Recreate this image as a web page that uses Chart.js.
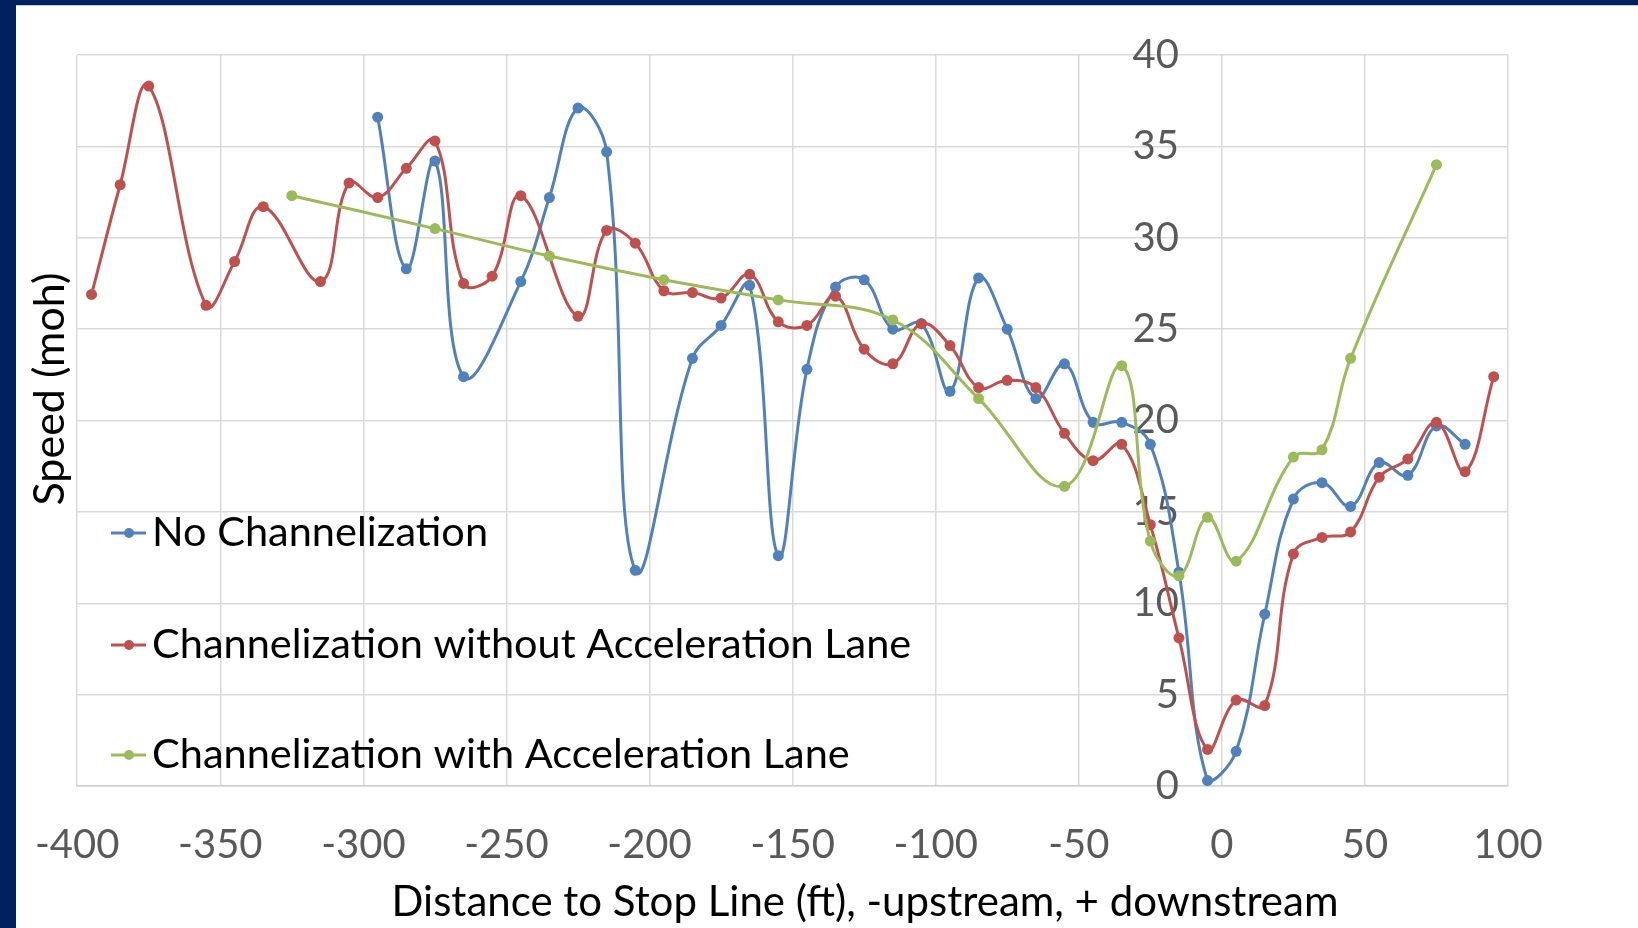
<!DOCTYPE html>
<html>
<head>
<meta charset="utf-8">
<title>Speed vs Distance to Stop Line</title>
<script src="https://cdn.jsdelivr.net/npm/chart.js@4.4.1/dist/chart.umd.min.js"></script>
<style>
  html, body { margin: 0; padding: 0; background: #ffffff; }
  canvas { display: block; }
</style>
</head>
<body>
<canvas id="chart" width="1638" height="928"></canvas>
<script>
// Distance to stop line (ft) and mean speed for each scenario
const noChanDistance = [-295, -285, -275, -265, -245, -235, -225, -215, -205, -185, -175, -165, -155, -145, -135, -125, -115, -105, -95, -85, -75, -65, -55, -45, -35, -25, -15, -5, 5, 15, 25, 35, 45, 55, 65, 75, 85];
const noChanSpeed = [36.6, 28.3, 34.2, 22.4, 27.6, 32.2, 37.1, 34.7, 11.8, 23.4, 25.2, 27.4, 12.6, 22.8, 27.3, 27.7, 25.0, 25.3, 21.6, 27.8, 25.0, 21.2, 23.1, 19.9, 19.9, 18.7, 11.7, 0.3, 1.9, 9.4, 15.7, 16.6, 15.3, 17.7, 17.0, 19.7, 18.7];

const chanNoAccelDistance = [-395, -385, -375, -355, -345, -335, -315, -305, -295, -285, -275, -265, -255, -245, -225, -215, -205, -195, -185, -175, -165, -155, -145, -135, -125, -115, -105, -95, -85, -75, -65, -55, -45, -35, -25, -15, -5, 5, 15, 25, 35, 45, 55, 65, 75, 85, 95];
const chanNoAccelSpeed = [26.9, 32.9, 38.3, 26.3, 28.7, 31.7, 27.6, 33.0, 32.2, 33.8, 35.3, 27.5, 27.9, 32.3, 25.7, 30.4, 29.7, 27.1, 27.0, 26.7, 28.0, 25.4, 25.2, 26.8, 23.9, 23.1, 25.3, 24.1, 21.8, 22.2, 21.8, 19.3, 17.8, 18.7, 14.3, 8.1, 2.0, 4.7, 4.4, 12.7, 13.6, 13.9, 16.9, 17.9, 19.9, 17.2, 22.4];

const chanAccelDistance = [-325, -275, -235, -195, -155, -115, -85, -55, -35, -25, -15, -5, 5, 25, 35, 45, 75];
const chanAccelSpeed = [32.3, 30.5, 29.0, 27.7, 26.6, 25.5, 21.2, 16.4, 23.0, 13.4, 11.5, 14.7, 12.3, 18.0, 18.4, 23.4, 34.0];

const seriesLabels = ['No Channelization', 'Channelization without Acceleration Lane', 'Channelization with Acceleration Lane'];
const xTickValues = [-400, -350, -300, -250, -200, -150, -100, -50, 0, 50, 100];
const yTickValues = [0, 5, 10, 15, 20, 25, 30, 35, 40];
const xTitle = 'Distance to Stop Line (ft), -upstream, + downstream';
const yTitle = 'Speed (moh)';

const colors = ['#4F81BD', '#C0504D', '#9BBB59'];
const FONT = 'Lato, "Open Sans", sans-serif';

function points(xs, ys) {
  return xs.map((x, i) => ({ x: x, y: ys[i] }));
}

function series(idx, xs, ys, order) {
  return {
    label: seriesLabels[idx],
    data: points(xs, ys),
    showLine: true,
    borderColor: colors[idx],
    backgroundColor: colors[idx],
    pointBackgroundColor: colors[idx],
    pointBorderColor: colors[idx],
    borderWidth: 3,
    pointRadius: 5.5,
    pointBorderWidth: 0,
    tension: 0.4,
    order: order
  };
}

// Navy frame along the left and top edges of the slide
const framePlugin = {
  id: 'frame',
  beforeDraw(chart) {
    const ctx = chart.ctx;
    ctx.save();
    ctx.fillStyle = '#ffffff';
    ctx.fillRect(0, 0, chart.width, chart.height);
    ctx.fillStyle = '#00205F';
    ctx.fillRect(0, 0, 16, chart.height);
    ctx.fillRect(0, 0, chart.width, 5);
    ctx.fillStyle = '#c9ced8';
    ctx.fillRect(16, 5, chart.width - 16, 1);
    ctx.restore();
  }
};

// Axis titles
const titlesPlugin = {
  id: 'axisTitles',
  afterDraw(chart) {
    const ctx = chart.ctx;
    ctx.save();
    ctx.fillStyle = '#000000';
    ctx.textAlign = 'center';
    ctx.textBaseline = 'middle';
    ctx.font = '42px ' + FONT;
    ctx.fillText(xTitle, 865, 902);
    ctx.font = '43px ' + FONT;
    ctx.translate(50, 389);
    ctx.rotate(-Math.PI / 2);
    ctx.fillText(yTitle, 0, 0);
    ctx.restore();
  }
};

// Legend drawn inside the plot, lower left
const legendPlugin = {
  id: 'innerLegend',
  afterDatasetsDraw(chart) {
    const ctx = chart.ctx;
    const rows = [533, 645, 755];
    ctx.save();
    ctx.font = '41.5px ' + FONT;
    ctx.textAlign = 'left';
    ctx.textBaseline = 'middle';
    chart.data.datasets.forEach((ds, i) => {
      const y = rows[i];
      ctx.strokeStyle = ds.borderColor;
      ctx.lineWidth = 3;
      ctx.beginPath();
      ctx.moveTo(111, y);
      ctx.lineTo(146, y);
      ctx.stroke();
      ctx.fillStyle = ds.borderColor;
      ctx.beginPath();
      ctx.arc(129, y, 5, 0, Math.PI * 2);
      ctx.fill();
      ctx.fillStyle = '#000000';
      ctx.fillText(ds.label, 152, y);
    });
    ctx.restore();
  }
};

const gridColor = '#D9D9D9';

new Chart(document.getElementById('chart'), {
  type: 'scatter',
  data: {
    datasets: [
      series(0, noChanDistance, noChanSpeed, 2),
      series(1, chanNoAccelDistance, chanNoAccelSpeed, 1),
      series(2, chanAccelDistance, chanAccelSpeed, 0)
    ]
  },
  options: {
    responsive: false,
    animation: false,
    devicePixelRatio: 1,
    layout: { padding: { left: 76, right: 130, top: 55, bottom: 0 } },
    plugins: {
      legend: { display: false },
      tooltip: { enabled: false }
    },
    scales: {
      x: {
        type: 'linear',
        position: 'bottom',
        min: xTickValues[0],
        max: xTickValues[xTickValues.length - 1],
        afterBuildTicks(scale) {
          scale.ticks = xTickValues.map(v => ({ value: v }));
        },
        afterFit(scale) { scale.height = 142; },
        grid: { color: gridColor, lineWidth: 1.5, drawTicks: false },
        border: { color: '#D0D0D0', width: 1.5 },
        ticks: {
          color: '#595959',
          font: { family: FONT, size: 40 },
          padding: 35,
          maxRotation: 0,
          autoSkip: false
        }
      },
      y: {
        type: 'linear',
        position: { x: -15 },
        min: yTickValues[0],
        max: yTickValues[yTickValues.length - 1],
        afterBuildTicks(scale) {
          scale.ticks = yTickValues.map(v => ({ value: v }));
        },
        grid: { color: gridColor, lineWidth: 1.5, drawTicks: false },
        border: { display: false },
        ticks: {
          color: '#595959',
          font: { family: FONT, size: 40 },
          autoSkip: false
        }
      }
    }
  },
  plugins: [framePlugin, titlesPlugin, legendPlugin]
});
</script>
</body>
</html>
